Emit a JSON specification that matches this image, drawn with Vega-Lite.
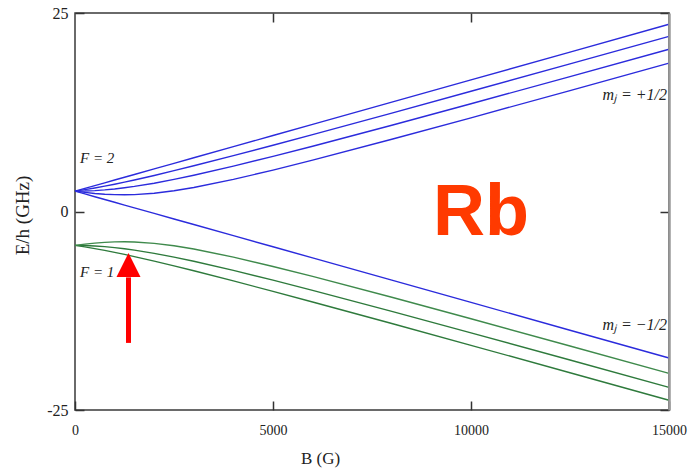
{
  "$schema": "https://vega.github.io/schema/vega-lite/v6.json",
  "width": 594,
  "height": 397,
  "autosize": {"type": "none"},
  "padding": {"left": 75, "top": 13, "right": 22, "bottom": 59},
  "background": "white",
  "config": {"view": {"stroke": "#3a3a3a", "strokeWidth": 1.5}},
  "datasets": {
    "levels": [
      {"B":0,"E":2.5631,"s":"F2+2"},{"B":250,"E":2.9134,"s":"F2+2"},{"B":500,"E":3.2637,"s":"F2+2"},{"B":750,"E":3.6140,"s":"F2+2"},{"B":1000,"E":3.9643,"s":"F2+2"},{"B":1250,"E":4.3146,"s":"F2+2"},{"B":1500,"E":4.6649,"s":"F2+2"},{"B":2000,"E":5.3655,"s":"F2+2"},{"B":2500,"E":6.0664,"s":"F2+2"},{"B":3000,"E":6.7670,"s":"F2+2"},{"B":4000,"E":8.1681,"s":"F2+2"},{"B":5000,"E":9.5693,"s":"F2+2"},{"B":6000,"E":10.9705,"s":"F2+2"},{"B":8000,"E":13.7732,"s":"F2+2"},{"B":10000,"E":16.5755,"s":"F2+2"},{"B":12500,"E":20.0788,"s":"F2+2"},{"B":15000,"E":23.5818,"s":"F2+2"},
      {"B":0,"E":2.5631,"s":"F2+1"},{"B":250,"E":2.7510,"s":"F2+1"},{"B":500,"E":2.9619,"s":"F2+1"},{"B":750,"E":3.1922,"s":"F2+1"},{"B":1000,"E":3.4387,"s":"F2+1"},{"B":1250,"E":3.6989,"s":"F2+1"},{"B":1500,"E":3.9705,"s":"F2+1"},{"B":2000,"E":4.5409,"s":"F2+1"},{"B":2500,"E":5.1393,"s":"F2+1"},{"B":3000,"E":5.7576,"s":"F2+1"},{"B":4000,"E":7.0355,"s":"F2+1"},{"B":5000,"E":8.3494,"s":"F2+1"},{"B":6000,"E":9.6858,"s":"F2+1"},{"B":8000,"E":12.3991,"s":"F2+1"},{"B":10000,"E":15.1429,"s":"F2+1"},{"B":12500,"E":18.5966,"s":"F2+1"},{"B":15000,"E":22.0649,"s":"F2+1"},
      {"B":0,"E":2.5631,"s":"F2 0"},{"B":250,"E":2.5810,"s":"F2 0"},{"B":500,"E":2.6342,"s":"F2 0"},{"B":750,"E":2.7210,"s":"F2 0"},{"B":1000,"E":2.8392,"s":"F2 0"},{"B":1250,"E":2.9858,"s":"F2 0"},{"B":1500,"E":3.1577,"s":"F2 0"},{"B":2000,"E":3.5652,"s":"F2 0"},{"B":2500,"E":4.0397,"s":"F2 0"},{"B":3000,"E":4.5626,"s":"F2 0"},{"B":4000,"E":5.7103,"s":"F2 0"},{"B":5000,"E":6.9409,"s":"F2 0"},{"B":6000,"E":8.2210,"s":"F2 0"},{"B":8000,"E":10.8650,"s":"F2 0"},{"B":10000,"E":13.5688,"s":"F2 0"},{"B":12500,"E":16.9916,"s":"F2 0"},{"B":15000,"E":20.4403,"s":"F2 0"},
      {"B":0,"E":2.5631,"s":"F2-1"},{"B":250,"E":2.4021,"s":"F2-1"},{"B":500,"E":2.2722,"s":"F2-1"},{"B":750,"E":2.1775,"s":"F2-1"},{"B":1000,"E":2.1212,"s":"F2-1"},{"B":1250,"E":2.1056,"s":"F2-1"},{"B":1500,"E":2.1312,"s":"F2-1"},{"B":2000,"E":2.3008,"s":"F2-1"},{"B":2500,"E":2.6068,"s":"F2-1"},{"B":3000,"E":3.0167,"s":"F2-1"},{"B":4000,"E":4.0385,"s":"F2-1"},{"B":5000,"E":5.2138,"s":"F2-1"},{"B":6000,"E":6.4689,"s":"F2-1"},{"B":8000,"E":9.0972,"s":"F2-1"},{"B":10000,"E":11.8002,"s":"F2-1"},{"B":12500,"E":15.2273,"s":"F2-1"},{"B":15000,"E":18.6810,"s":"F2-1"},
      {"B":0,"E":2.5631,"s":"F2-2"},{"B":250,"E":2.2128,"s":"F2-2"},{"B":500,"E":1.8625,"s":"F2-2"},{"B":750,"E":1.5122,"s":"F2-2"},{"B":1000,"E":1.1619,"s":"F2-2"},{"B":1250,"E":0.8116,"s":"F2-2"},{"B":1500,"E":0.4613,"s":"F2-2"},{"B":2000,"E":-0.2393,"s":"F2-2"},{"B":2500,"E":-0.9402,"s":"F2-2"},{"B":3000,"E":-1.6408,"s":"F2-2"},{"B":4000,"E":-3.0419,"s":"F2-2"},{"B":5000,"E":-4.4431,"s":"F2-2"},{"B":6000,"E":-5.8443,"s":"F2-2"},{"B":8000,"E":-8.6470,"s":"F2-2"},{"B":10000,"E":-11.4493,"s":"F2-2"},{"B":12500,"E":-14.9526,"s":"F2-2"},{"B":15000,"E":-18.4556,"s":"F2-2"},
      {"B":0,"E":-4.2719,"s":"F1+1"},{"B":250,"E":-4.4598,"s":"F1+1"},{"B":500,"E":-4.6707,"s":"F1+1"},{"B":750,"E":-4.9010,"s":"F1+1"},{"B":1000,"E":-5.1475,"s":"F1+1"},{"B":1250,"E":-5.4077,"s":"F1+1"},{"B":1500,"E":-5.6793,"s":"F1+1"},{"B":2000,"E":-6.2497,"s":"F1+1"},{"B":2500,"E":-6.8481,"s":"F1+1"},{"B":3000,"E":-7.4664,"s":"F1+1"},{"B":4000,"E":-8.7443,"s":"F1+1"},{"B":5000,"E":-10.0582,"s":"F1+1"},{"B":6000,"E":-11.3946,"s":"F1+1"},{"B":8000,"E":-14.1079,"s":"F1+1"},{"B":10000,"E":-16.8517,"s":"F1+1"},{"B":12500,"E":-20.3054,"s":"F1+1"},{"B":15000,"E":-23.7737,"s":"F1+1"},
      {"B":0,"E":-4.2719,"s":"F1 0"},{"B":250,"E":-4.2898,"s":"F1 0"},{"B":500,"E":-4.3430,"s":"F1 0"},{"B":750,"E":-4.4298,"s":"F1 0"},{"B":1000,"E":-4.5480,"s":"F1 0"},{"B":1250,"E":-4.6946,"s":"F1 0"},{"B":1500,"E":-4.8665,"s":"F1 0"},{"B":2000,"E":-5.2740,"s":"F1 0"},{"B":2500,"E":-5.7485,"s":"F1 0"},{"B":3000,"E":-6.2714,"s":"F1 0"},{"B":4000,"E":-7.4191,"s":"F1 0"},{"B":5000,"E":-8.6497,"s":"F1 0"},{"B":6000,"E":-9.9298,"s":"F1 0"},{"B":8000,"E":-12.5738,"s":"F1 0"},{"B":10000,"E":-15.2776,"s":"F1 0"},{"B":12500,"E":-18.7004,"s":"F1 0"},{"B":15000,"E":-22.1491,"s":"F1 0"},
      {"B":0,"E":-4.2719,"s":"F1-1"},{"B":250,"E":-4.1109,"s":"F1-1"},{"B":500,"E":-3.9810,"s":"F1-1"},{"B":750,"E":-3.8863,"s":"F1-1"},{"B":1000,"E":-3.8300,"s":"F1-1"},{"B":1250,"E":-3.8144,"s":"F1-1"},{"B":1500,"E":-3.8400,"s":"F1-1"},{"B":2000,"E":-4.0096,"s":"F1-1"},{"B":2500,"E":-4.3156,"s":"F1-1"},{"B":3000,"E":-4.7255,"s":"F1-1"},{"B":4000,"E":-5.7473,"s":"F1-1"},{"B":5000,"E":-6.9226,"s":"F1-1"},{"B":6000,"E":-8.1777,"s":"F1-1"},{"B":8000,"E":-10.8060,"s":"F1-1"},{"B":10000,"E":-13.5090,"s":"F1-1"},{"B":12500,"E":-16.9361,"s":"F1-1"},{"B":15000,"E":-20.3898,"s":"F1-1"}
    ],
    "arrow": [{"B": 1351, "E1": -16.55, "E2": -8.3, "Eh": -6.73}],
    "leftlabels": [
      {"B": 126, "E": 6.74, "t": "F = 2"},
      {"B": 126, "E": -7.62, "t": "F = 1"}
    ],
    "rightlabels": [
      {"B": 14949, "E": 14.67, "t": "mⱼ = +1/2"},
      {"B": 14949, "E": -14.29, "t": "mⱼ = −1/2"}
    ],
    "bigtitle": [{"B": 10253, "E": -2.95, "t": "Rb"}]
  },
  "resolve": {"axis": {"x": "independent", "y": "independent"}},
  "layer": [
    {
      "data": {"name": "levels"},
      "mark": {"type": "line", "strokeWidth": 1.4},
      "encoding": {
        "x": {
          "field": "B", "type": "quantitative",
          "scale": {"domain": [0, 15000], "nice": false, "zero": false},
          "axis": {
            "orient": "bottom", "values": [0, 5000, 10000, 15000], "format": "d",
            "domain": false, "grid": false, "ticks": true, "tickSize": -9,
            "tickColor": "#333", "tickWidth": 1.5,
            "labelFont": "Liberation Serif", "labelFontSize": 14, "labelColor": "#222",
            "labelPadding": 22, "labelFlush": false, "labelOverlap": false, "labelBound": false,
            "title": "B (G)", "titleFont": "Liberation Serif", "titleFontSize": 17,
            "titleFontWeight": "normal", "titleColor": "#222",
            "titleX": 245, "titleY": 48, "titleAlign": "center", "titleBaseline": "middle", "titleAngle": 0
          }
        },
        "y": {
          "field": "E", "type": "quantitative",
          "scale": {"domain": [-25, 25], "nice": false, "zero": false},
          "axis": {
            "orient": "left", "values": [-25, 0, 25],
            "labelExpr": "datum.value < 0 ? '-' + abs(datum.value) : '' + datum.value",
            "domain": false, "grid": false, "ticks": true, "tickSize": -9,
            "tickColor": "#333", "tickWidth": 1.5,
            "labelFont": "Liberation Serif", "labelFontSize": 16, "labelColor": "#222",
            "labelPadding": 16, "labelFlush": false, "labelOverlap": false, "labelBound": false,
            "title": "E/h (GHz)", "titleFont": "Liberation Serif", "titleFontSize": 19,
            "titleFontWeight": "normal", "titleColor": "#222",
            "titleX": -53, "titleY": 202, "titleAlign": "center", "titleBaseline": "middle", "titleAngle": -90
          }
        },
        "detail": {"field": "s"},
        "color": {
          "field": "s", "type": "nominal",
          "scale": {
            "domain": ["F2+2", "F2+1", "F2 0", "F2-1", "F2-2", "F1+1", "F1 0", "F1-1"],
            "range": ["#2b2bdc", "#2b2bdc", "#2b2bdc", "#2b2bdc", "#2b2bdc", "#2e7a3c", "#2e7a3c", "#3f8a4c"]
          },
          "legend": null
        }
      }
    },
    {
      "data": {"name": "arrow"},
      "mark": {"type": "rule", "strokeWidth": 5, "color": "#ff0000"},
      "encoding": {
        "x": {
          "field": "B", "type": "quantitative",
          "scale": {"domain": [0, 15000], "nice": false, "zero": false},
          "axis": {
            "orient": "top", "values": [5000, 10000], "labels": false, "domain": false,
            "grid": false, "ticks": true, "tickSize": -9, "tickColor": "#333", "tickWidth": 1.5,
            "title": null
          }
        },
        "y": {
          "field": "E1", "type": "quantitative",
          "scale": {"domain": [-25, 25], "nice": false, "zero": false},
          "axis": {
            "orient": "right", "values": [-25, 0, 25], "labels": false, "domain": true,
            "domainColor": "#9a9a9a", "domainWidth": 2.5, "grid": false, "ticks": true,
            "tickSize": -9, "tickColor": "#333", "tickWidth": 1.5, "title": null, "zindex": 1
          }
        },
        "y2": {"field": "E2"}
      }
    },
    {
      "data": {"name": "arrow"},
      "mark": {"type": "point", "shape": "M-1,1L0,-1L1,1Z", "size": 576, "filled": true, "color": "#ff0000", "opacity": 1},
      "encoding": {
        "x": {"field": "B", "type": "quantitative", "scale": {"domain": [0, 15000], "nice": false, "zero": false}, "axis": null},
        "y": {"field": "Eh", "type": "quantitative", "scale": {"domain": [-25, 25], "nice": false, "zero": false}, "axis": null}
      }
    },
    {
      "data": {"name": "leftlabels"},
      "mark": {"type": "text", "align": "left", "baseline": "middle", "font": "Liberation Serif", "fontSize": 15, "fontStyle": "italic", "color": "#222"},
      "encoding": {
        "x": {"field": "B", "type": "quantitative", "scale": {"domain": [0, 15000], "nice": false, "zero": false}, "axis": null},
        "y": {"field": "E", "type": "quantitative", "scale": {"domain": [-25, 25], "nice": false, "zero": false}, "axis": null},
        "text": {"field": "t"}
      }
    },
    {
      "data": {"name": "rightlabels"},
      "mark": {"type": "text", "align": "right", "baseline": "middle", "font": "Liberation Serif", "fontSize": 16, "fontStyle": "italic", "color": "#222"},
      "encoding": {
        "x": {"field": "B", "type": "quantitative", "scale": {"domain": [0, 15000], "nice": false, "zero": false}, "axis": null},
        "y": {"field": "E", "type": "quantitative", "scale": {"domain": [-25, 25], "nice": false, "zero": false}, "axis": null},
        "text": {"field": "t"}
      }
    },
    {
      "data": {"name": "bigtitle"},
      "mark": {"type": "text", "align": "center", "baseline": "alphabetic", "font": "Liberation Sans", "fontSize": 72, "fontWeight": "bold", "color": "#ff3a00"},
      "encoding": {
        "x": {"field": "B", "type": "quantitative", "scale": {"domain": [0, 15000], "nice": false, "zero": false}, "axis": null},
        "y": {"field": "E", "type": "quantitative", "scale": {"domain": [-25, 25], "nice": false, "zero": false}, "axis": null},
        "text": {"field": "t"}
      }
    }
  ]
}
